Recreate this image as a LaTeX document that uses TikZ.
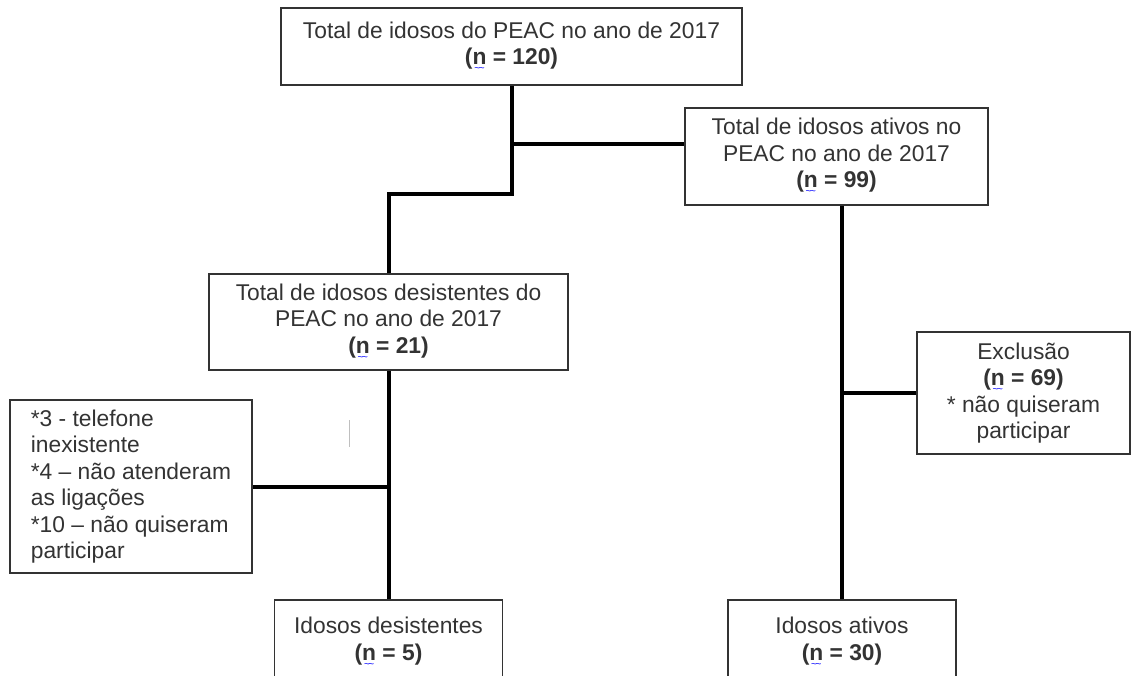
\documentclass[tikz,border=0pt]{standalone}
\usepackage{fontspec}
\setmainfont{Liberation Sans}
\newcommand{\spelln}{\ooalign{n\cr\hidewidth\raisebox{-7pt}{\color{blue}\fontsize{10}{10}\mdseries\selectfont\textasciitilde\kern-1.4pt\textasciitilde}\hidewidth\cr}}

\begin{document}
\begin{tikzpicture}[x=1pt,y=-1pt,
  box/.style={draw=black!80, line width=1.2pt, align=center, inner sep=4pt,
    font=\fontsize{22.8}{26.5}\selectfont, text=black!80},
  link/.style={line width=4pt}]
\useasboundingbox (0,0) rectangle (1135,675);
\clip (0,0) rectangle (1135,675);
% Total of elderly in the programme
\node[box, minimum width=461, minimum height=77] (total) at (511.5,46.5) {Total de idosos do PEAC no ano de 2017\\\textbf{(\spelln{} = 120)}};
% Active branch
\node[box, minimum width=303, minimum height=97] (ativos) at (836.5,156.5) {Total de idosos ativos no\\PEAC no ano de 2017\\\textbf{(\spelln{} = 99)}};
% Dropout branch
\node[box, minimum width=359, minimum height=96] (desist) at (388.5,322) {Total de idosos desistentes do\\PEAC no ano de 2017\\\textbf{(\spelln{} = 21)}};
% Reasons for losses
\node[box, align=left, minimum width=242, minimum height=173] (motivos) at (131,486.5) {*3 - telefone\\inexistente\\*4 – não atenderam\\as ligações\\*10 – não quiseram\\participar};
% Exclusion box
\node[box, minimum width=213, minimum height=122] (exclusao) at (1023.5,393) {Exclusão\\\textbf{(\spelln{} = 69)}\\* não quiseram\\participar};
% Final samples, cut at the page foot
\node[box, minimum width=228, minimum height=84] (idesist) at (388.5,642) {Idosos desistentes\\\textbf{(\spelln{} = 5)}};
\node[box, minimum width=228, minimum height=84] (iativos) at (842,642) {Idosos ativos\\\textbf{(\spelln{} = 30)}};
% Trunk from the total box
\draw[link] (total.south) -- ++(0,108) -| (desist.north);
\draw[link] (total.south) ++(0,58) coordinate (split1) -- (split1 -| ativos.west);
% Dropouts down to the final group
\draw[link] (desist.south) -- (idesist.north);
\draw[link] (motivos.east) -- (motivos.east -| desist.south);
% Active down to the final group
\draw[link] (ativos.south -| iativos.north) coordinate (drop2) -- (iativos.north);
\draw[link] (exclusao.west) -- (exclusao.west -| drop2);
% Stray cursor mark
\draw[black!25, line width=1pt] (349,420) -- (349,447);
\end{tikzpicture}
\end{document}
